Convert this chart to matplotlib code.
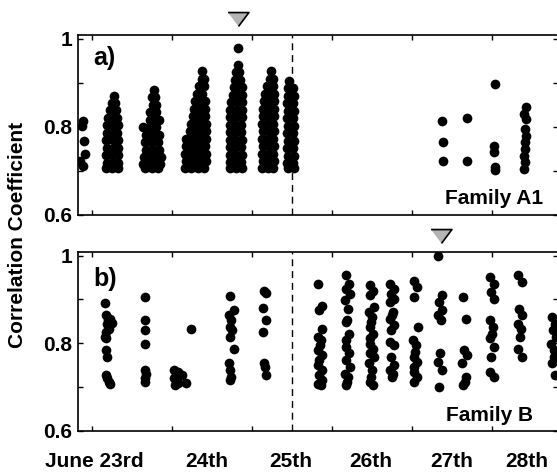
import matplotlib
matplotlib.use("Agg")
import matplotlib.pyplot as plt
from matplotlib.transforms import blended_transform_factory

plt.rcParams['font.family'] = ['Liberation Sans', 'DejaVu Sans']
plt.rcParams['font.weight'] = 'bold'

# ---- data: time in days of June, correlation coefficient ----
# Family A1, dense columns given as (coefficient, [days]) rows
a_left = [(22.89, 0.814), (22.87, 0.802), (22.90, 0.768), (22.91, 0.739),
          (22.85, 0.723), (22.89, 0.711)]
a2_rows = [(0.870, [23.27]), (0.855, [23.25, 23.29]), (0.838, [23.23, 23.30]),
           (0.821, [23.20, 23.27, 23.31]), (0.804, [23.19, 23.26, 23.32]),
           (0.787, [23.19, 23.25, 23.31]), (0.770, [23.18, 23.26, 23.32]),
           (0.753, [23.19, 23.27, 23.33]), (0.736, [23.18, 23.25, 23.32]),
           (0.719, [23.19, 23.26, 23.33]), (0.707, [23.18, 23.25, 23.32])]
a3_rows = [(0.884, [23.77]), (0.867, [23.75, 23.79]), (0.850, [23.76, 23.80]),
           (0.833, [23.73, 23.80]), (0.816, [23.72, 23.79, 23.84]),
           (0.799, [23.64, 23.72, 23.80]), (0.782, [23.68, 23.76, 23.84]),
           (0.765, [23.66, 23.74, 23.82]), (0.748, [23.67, 23.76, 23.84]),
           (0.731, [23.65, 23.73, 23.81, 23.86]),
           (0.716, [23.64, 23.72, 23.80, 23.85]), (0.707, [23.66, 23.75, 23.83])]
a4_rows = [(0.926, [24.38]), (0.909, [24.37, 24.40]), (0.892, [24.34, 24.40]),
           (0.875, [24.31, 24.38]), (0.858, [24.29, 24.36, 24.41]),
           (0.841, [24.27, 24.34, 24.41]), (0.824, [24.26, 24.33, 24.41]),
           (0.807, [24.24, 24.31, 24.38, 24.42]),
           (0.790, [24.22, 24.29, 24.36, 24.42]),
           (0.773, [24.17, 24.24, 24.31, 24.38, 24.42]),
           (0.756, [24.17, 24.25, 24.33, 24.41]),
           (0.739, [24.16, 24.23, 24.30, 24.37, 24.42]),
           (0.722, [24.17, 24.24, 24.31, 24.38, 24.42]),
           (0.707, [24.16, 24.24, 24.32, 24.40])]
a5_rows = [(0.979, [24.83]), (0.941, [24.82]), (0.924, [24.80, 24.84]),
           (0.907, [24.79, 24.85]), (0.890, [24.77, 24.83, 24.87]),
           (0.873, [24.76, 24.82, 24.87]), (0.856, [24.74, 24.81, 24.87]),
           (0.839, [24.73, 24.80, 24.87]), (0.822, [24.73, 24.80, 24.87]),
           (0.805, [24.72, 24.79, 24.86]), (0.788, [24.72, 24.79, 24.86]),
           (0.771, [24.73, 24.80, 24.87]), (0.754, [24.72, 24.79, 24.86]),
           (0.737, [24.73, 24.80, 24.87]), (0.720, [24.72, 24.79, 24.86]),
           (0.707, [24.73, 24.80, 24.87])]
a6_rows = [(0.926, [25.24]), (0.909, [25.22, 25.26]), (0.892, [25.19, 25.26]),
           (0.875, [25.16, 25.22, 25.27]), (0.858, [25.15, 25.21, 25.27]),
           (0.841, [25.14, 25.21, 25.27]), (0.824, [25.14, 25.20, 25.27]),
           (0.807, [25.13, 25.20, 25.26]), (0.790, [25.14, 25.21, 25.27]),
           (0.773, [25.13, 25.20, 25.26]), (0.756, [25.14, 25.21, 25.27]),
           (0.739, [25.13, 25.20, 25.26]), (0.722, [25.14, 25.21, 25.27]),
           (0.707, [25.13, 25.20, 25.26])]
a7_rows = [(0.904, [25.46]), (0.887, [25.45, 25.51]), (0.870, [25.45, 25.52]),
           (0.853, [25.44, 25.51]), (0.836, [25.45, 25.52]),
           (0.819, [25.44, 25.51]), (0.802, [25.45, 25.52]),
           (0.785, [25.44, 25.51]), (0.768, [25.45, 25.52]),
           (0.751, [25.44, 25.51]), (0.734, [25.45, 25.52]),
           (0.719, [25.44, 25.51]), (0.707, [25.45, 25.52])]
a_late = [(27.38, 0.814), (27.39, 0.766), (27.39, 0.723), (27.69, 0.820),
          (27.69, 0.723), (28.04, 0.898), (28.03, 0.757), (28.03, 0.743),
          (28.04, 0.709), (28.04, 0.702), (28.43, 0.845), (28.40, 0.830),
          (28.42, 0.818), (28.41, 0.795), (28.42, 0.780), (28.41, 0.766),
          (28.41, 0.750), (28.40, 0.734), (28.41, 0.720), (28.40, 0.705)]

# Family B, individual detections (day, coefficient)
b_early = [(23.16, 0.892), (23.17, 0.864), (23.22, 0.856), (23.20, 0.852),
           (23.25, 0.847), (23.19, 0.845), (23.21, 0.833), (23.18, 0.826),
           (23.16, 0.814), (23.18, 0.811), (23.18, 0.784), (23.19, 0.769),
           (23.17, 0.727), (23.19, 0.720), (23.21, 0.712), (23.23, 0.708),
           (23.66, 0.905), (23.66, 0.852), (23.66, 0.830), (23.66, 0.799),
           (23.66, 0.739), (23.67, 0.729), (23.66, 0.720), (23.66, 0.712),
           (24.24, 0.832), (24.03, 0.740), (24.08, 0.735), (24.13, 0.727),
           (24.02, 0.720), (24.07, 0.710), (24.17, 0.710), (24.04, 0.705),
           (24.73, 0.907), (24.78, 0.875), (24.71, 0.864), (24.74, 0.852),
           (24.72, 0.837), (24.75, 0.830), (24.72, 0.814), (24.77, 0.786),
           (24.71, 0.754), (24.72, 0.739), (24.74, 0.723), (24.73, 0.716),
           (25.15, 0.918), (25.17, 0.914), (25.14, 0.880), (25.18, 0.852),
           (25.14, 0.826), (25.15, 0.754), (25.16, 0.746), (25.18, 0.727)]
b_cols = [
    (25.85, [0.936, 0.884, 0.875, 0.833, 0.814, 0.807, 0.795, 0.784, 0.773,
             0.761, 0.750, 0.739, 0.727, 0.716, 0.708, 0.705]),
    (26.19, [0.955, 0.936, 0.924, 0.913, 0.898, 0.879, 0.852, 0.848, 0.822,
             0.807, 0.792, 0.777, 0.761, 0.746, 0.731, 0.723, 0.712, 0.705]),
    (26.49, [0.932, 0.920, 0.909, 0.883, 0.871, 0.860, 0.848, 0.837, 0.822,
             0.811, 0.799, 0.788, 0.777, 0.769, 0.754, 0.739, 0.723, 0.712,
             0.705]),
    (26.75, [0.936, 0.924, 0.913, 0.902, 0.894, 0.871, 0.864, 0.856, 0.841,
             0.830, 0.803, 0.795, 0.769, 0.750, 0.739, 0.731, 0.723]),
    (27.04, [0.943, 0.928, 0.905, 0.837, 0.807, 0.795, 0.780, 0.769, 0.758,
             0.746, 0.735, 0.723, 0.712]),
    (27.35, [0.998, 0.909, 0.894, 0.875, 0.864, 0.852, 0.777, 0.758, 0.739,
             0.701]),
    (27.66, [0.905, 0.856, 0.784, 0.773, 0.754, 0.723, 0.712, 0.705]),
    (28.00, [0.951, 0.936, 0.917, 0.902, 0.852, 0.837, 0.822, 0.811, 0.792,
             0.769, 0.735, 0.723]),
    (28.35, [0.955, 0.939, 0.879, 0.864, 0.845, 0.833, 0.814, 0.788, 0.769]),
    (28.77, [0.860, 0.845, 0.830, 0.814, 0.799, 0.784, 0.769, 0.754, 0.727]),
]
# small spread of detection times inside each column
b_jitter = [-0.02, 0.02, -0.01, 0.03, -0.03, 0.01, 0.0, -0.02, 0.02, -0.01]

day_ticks = [23, 24, 25, 26, 27, 28]
day_label_pos = [23.025, 24.44, 25.49, 26.49, 27.49, 28.43]
day_labels = ['June 23rd', '24th', '25th', '26th', '27th', '28th']
event_line = 25.5
event_a = 24.83
event_b = 27.36

# ---- flatten ----
a_x, a_y = [p[0] for p in a_left], [p[1] for p in a_left]
for rows in (a2_rows, a3_rows, a4_rows, a5_rows, a6_rows, a7_rows):
    for val, days in rows:
        for d in days:
            a_x.append(d)
            a_y.append(val)
a_x += [p[0] for p in a_late]
a_y += [p[1] for p in a_late]

b_x, b_y = [p[0] for p in b_early], [p[1] for p in b_early]
for day, vals in b_cols:
    for i, v in enumerate(vals):
        b_x.append(day + b_jitter[i % len(b_jitter)])
        b_y.append(v)

# ---- figure ----
fig = plt.figure(figsize=(5.57, 4.72), dpi=100)
ax_a = fig.add_axes([78 / 557, 1 - 215 / 472, 480 / 557, 180 / 472])
ax_b = fig.add_axes([78 / 557, 1 - 431 / 472, 480 / 557, 179 / 472])

tri = [(-1, 0.667), (1, 0.667), (0, -0.667)]

for ax, xs, ys, ev in ((ax_a, a_x, a_y, event_a), (ax_b, b_x, b_y, event_b)):
    ax.set_xlim(22.825, 28.825)
    ax.set_ylim(0.6, 1.008)
    ax.axvline(event_line, color='k', ls=(0, (5, 3.5)), lw=1, zorder=1)
    ax.plot(xs, ys, 'o', color='k', ms=7, mew=0, zorder=3)
    ax.plot(ev, 1.044, marker=tri, ms=15, mfc='#b4b4b4', mec='k', mew=1.2,
            clip_on=False, zorder=4)
    ax.set_xticks(day_ticks)
    ax.set_xticklabels([])
    ax.set_yticks([0.6, 0.7, 0.8, 0.9, 1.0])
    ax.set_yticklabels(['0.6', '', '0.8', '', '1'])
    ax.tick_params(direction='in', top=True, right=True, length=3.5, width=1,
                   labelsize=15, pad=4)
    for s in ax.spines.values():
        s.set_linewidth(1.2)

ax_a.text(0.031, 0.833, 'a)', transform=ax_a.transAxes, fontsize=18)
ax_b.text(0.031, 0.81, 'b)', transform=ax_b.transAxes, fontsize=18)
ax_a.text(0.969, 0.061, 'Family A1', transform=ax_a.transAxes, fontsize=15,
          ha='right', va='baseline')
ax_b.text(0.948, 0.056, 'Family B', transform=ax_b.transAxes, fontsize=15,
          ha='right', va='baseline')

trans = blended_transform_factory(ax_b.transData, ax_b.transAxes)
for pos, lab in zip(day_label_pos, day_labels):
    ax_b.text(pos, -0.201, lab, transform=trans, ha='center', va='baseline',
              fontsize=15)

fig.text(18 / 557, 1 - 235 / 472, 'Correlation Coefficient', rotation=90,
         ha='center', va='center', fontsize=15)

fig.savefig('out.png', dpi=100)
